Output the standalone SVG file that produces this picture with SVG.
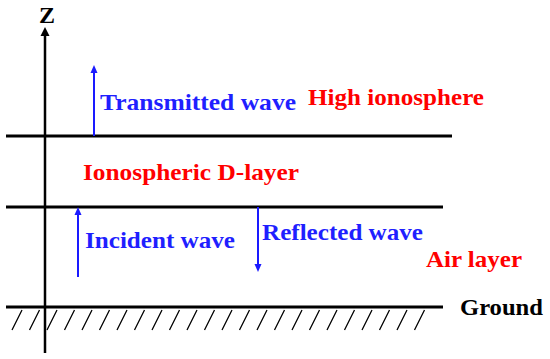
<svg xmlns="http://www.w3.org/2000/svg" width="550" height="359" viewBox="0 0 550 359">
<g id="axis">
<line x1="45" y1="353" x2="45" y2="34" stroke="#000" stroke-width="2.5"/>
<path d="M45,27 L40.5,36 L49.5,36 Z" fill="#000"/>
<text x="47" y="23" text-anchor="middle" font-family="Liberation Serif" font-weight="bold" font-size="24" fill="#000">Z</text>
</g>
<g id="boundaries" stroke="#000" stroke-width="3">
<line x1="6" y1="136" x2="452" y2="136"/>
<line x1="6" y1="207" x2="443" y2="207"/>
<line x1="6" y1="307" x2="443" y2="307"/>
</g>
<g id="hatch">
<path stroke="#000" stroke-width="1.3" fill="none" d="M12,330l10,-20M29.5,330l10,-20M47,330l10,-20M64.5,330l10,-20M82,330l10,-20M99.5,330l10,-20M117,330l10,-20M134.5,330l10,-20M152,330l10,-20M169.5,330l10,-20M187,330l10,-20M204.5,330l10,-20M222,330l10,-20M239.5,330l10,-20M257,330l10,-20M274.5,330l10,-20M292,330l10,-20M309.5,330l10,-20M327,330l10,-20M344.5,330l10,-20M362,330l10,-20M379.5,330l10,-20M397,330l10,-20M414.5,330l10,-20"/>
</g>
<g id="connectors">
<line x1="94" y1="136" x2="94" y2="72" stroke="#1a1aff" stroke-width="2"/>
<path d="M94,65 L90.5,73 L97.5,73 Z" fill="#1a1aff"/>
<line x1="78" y1="277" x2="78" y2="214" stroke="#1a1aff" stroke-width="2"/>
<path d="M78,207 L74.5,215 L81.5,215 Z" fill="#1a1aff"/>
<line x1="258" y1="207" x2="258" y2="265" stroke="#1a1aff" stroke-width="2"/>
<path d="M258,272 L254.5,264 L261.5,264 Z" fill="#1a1aff"/>
</g>
<g id="labels">
<text x="100" y="110" font-family="Liberation Serif" font-weight="bold" font-size="24" fill="#1f1fff" textLength="196" lengthAdjust="spacingAndGlyphs">Transmitted wave</text>
<text x="308" y="105" font-family="Liberation Serif" font-weight="bold" font-size="24" fill="#ff0000" textLength="176" lengthAdjust="spacingAndGlyphs">High ionosphere</text>
<text x="83" y="180" font-family="Liberation Serif" font-weight="bold" font-size="24" fill="#ff0000" textLength="216" lengthAdjust="spacingAndGlyphs">Ionospheric D-layer</text>
<text x="85" y="248" font-family="Liberation Serif" font-weight="bold" font-size="24" fill="#1f1fff" textLength="150" lengthAdjust="spacingAndGlyphs">Incident wave</text>
<text x="262" y="240" font-family="Liberation Serif" font-weight="bold" font-size="24" fill="#1f1fff" textLength="161" lengthAdjust="spacingAndGlyphs">Reflected wave</text>
<text x="426" y="267" font-family="Liberation Serif" font-weight="bold" font-size="24" fill="#ff0000" textLength="96" lengthAdjust="spacingAndGlyphs">Air layer</text>
<text x="460" y="315" font-family="Liberation Serif" font-weight="bold" font-size="24" fill="#000" textLength="83" lengthAdjust="spacingAndGlyphs">Ground</text>
</g>
</svg>
